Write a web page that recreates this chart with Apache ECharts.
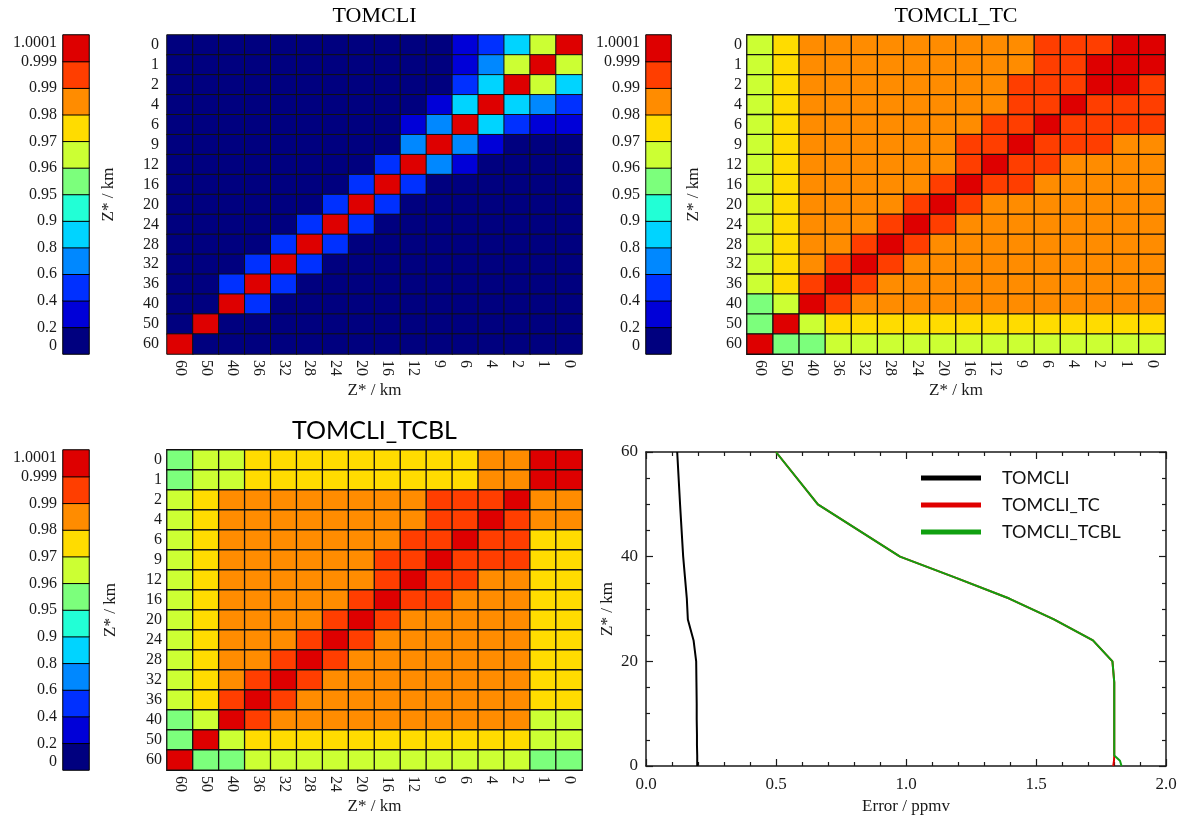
<!DOCTYPE html>
<html>
<head>
<meta charset="utf-8">
<title>TOMCLI averaging kernels</title>
<script src="https://cdn.jsdelivr.net/npm/echarts@6/dist/echarts.min.js"></script>
<style>
    html, body { margin: 0; padding: 0; background: #fff; }
    #chart { width: 1181px; height: 819px; }
</style>
</head>
<body>
<div id="chart"></div>
<script>
// Altitude levels (km): top row / right column is 0, bottom row / left column is 60
const levels = [0, 1, 2, 4, 6, 9, 12, 16, 20, 24, 28, 32, 36, 40, 50, 60];
const xCats = levels.slice().reverse().map(String);
const yCats = levels.map(String);

// Colour scale edges and their tick labels
const bounds = [0, 0.2, 0.4, 0.6, 0.8, 0.9, 0.95, 0.96, 0.97, 0.98, 0.99, 0.999, 1.0001];
const boundLabels = ['0', '0.2', '0.4', '0.6', '0.8', '0.9', '0.95', '0.96', '0.97', '0.98', '0.99', '0.999', '1.0001'];
const binColors = ['#00007f', '#0000d8', '#0030ff', '#0088ff', '#00d4ff', '#22ffd6',
    '#7cff7c', '#ccff33', '#ffdc00', '#ff8c00', '#ff3e00', '#de0000'];

// Matrices: rows are Z* = 0 ... 60 (top to bottom), columns are Z* = 60 ... 0 (left to right)
const tomcli = [
    [0.1, 0.1, 0.1, 0.1, 0.1, 0.1, 0.1, 0.1, 0.1, 0.1, 0.1, 0.3, 0.5, 0.85, 0.965, 1.0],
    [0.1, 0.1, 0.1, 0.1, 0.1, 0.1, 0.1, 0.1, 0.1, 0.1, 0.1, 0.3, 0.7, 0.965, 1.0, 0.965],
    [0.1, 0.1, 0.1, 0.1, 0.1, 0.1, 0.1, 0.1, 0.1, 0.1, 0.1, 0.5, 0.85, 1.0, 0.965, 0.85],
    [0.1, 0.1, 0.1, 0.1, 0.1, 0.1, 0.1, 0.1, 0.1, 0.1, 0.3, 0.85, 1.0, 0.85, 0.7, 0.5],
    [0.1, 0.1, 0.1, 0.1, 0.1, 0.1, 0.1, 0.1, 0.1, 0.3, 0.7, 1.0, 0.85, 0.5, 0.3, 0.3],
    [0.1, 0.1, 0.1, 0.1, 0.1, 0.1, 0.1, 0.1, 0.1, 0.7, 1.0, 0.7, 0.3, 0.1, 0.1, 0.1],
    [0.1, 0.1, 0.1, 0.1, 0.1, 0.1, 0.1, 0.1, 0.5, 1.0, 0.7, 0.3, 0.1, 0.1, 0.1, 0.1],
    [0.1, 0.1, 0.1, 0.1, 0.1, 0.1, 0.1, 0.5, 1.0, 0.5, 0.1, 0.1, 0.1, 0.1, 0.1, 0.1],
    [0.1, 0.1, 0.1, 0.1, 0.1, 0.1, 0.5, 1.0, 0.5, 0.1, 0.1, 0.1, 0.1, 0.1, 0.1, 0.1],
    [0.1, 0.1, 0.1, 0.1, 0.1, 0.5, 1.0, 0.5, 0.1, 0.1, 0.1, 0.1, 0.1, 0.1, 0.1, 0.1],
    [0.1, 0.1, 0.1, 0.1, 0.5, 1.0, 0.5, 0.1, 0.1, 0.1, 0.1, 0.1, 0.1, 0.1, 0.1, 0.1],
    [0.1, 0.1, 0.1, 0.5, 1.0, 0.5, 0.1, 0.1, 0.1, 0.1, 0.1, 0.1, 0.1, 0.1, 0.1, 0.1],
    [0.1, 0.1, 0.5, 1.0, 0.5, 0.1, 0.1, 0.1, 0.1, 0.1, 0.1, 0.1, 0.1, 0.1, 0.1, 0.1],
    [0.1, 0.1, 1.0, 0.5, 0.1, 0.1, 0.1, 0.1, 0.1, 0.1, 0.1, 0.1, 0.1, 0.1, 0.1, 0.1],
    [0.1, 1.0, 0.1, 0.1, 0.1, 0.1, 0.1, 0.1, 0.1, 0.1, 0.1, 0.1, 0.1, 0.1, 0.1, 0.1],
    [1.0, 0.1, 0.1, 0.1, 0.1, 0.1, 0.1, 0.1, 0.1, 0.1, 0.1, 0.1, 0.1, 0.1, 0.1, 0.1]
];

const tomcliTC = [
    [0.965, 0.975, 0.985, 0.985, 0.985, 0.985, 0.985, 0.985, 0.985, 0.985, 0.985, 0.995, 0.995, 0.995, 1.0, 1.0],
    [0.965, 0.975, 0.985, 0.985, 0.985, 0.985, 0.985, 0.985, 0.985, 0.985, 0.985, 0.995, 0.995, 1.0, 1.0, 1.0],
    [0.965, 0.975, 0.985, 0.985, 0.985, 0.985, 0.985, 0.985, 0.985, 0.985, 0.995, 0.995, 0.995, 1.0, 1.0, 0.995],
    [0.965, 0.975, 0.985, 0.985, 0.985, 0.985, 0.985, 0.985, 0.985, 0.985, 0.995, 0.995, 1.0, 0.995, 0.995, 0.995],
    [0.965, 0.975, 0.985, 0.985, 0.985, 0.985, 0.985, 0.985, 0.985, 0.995, 0.995, 1.0, 0.995, 0.995, 0.995, 0.995],
    [0.965, 0.975, 0.985, 0.985, 0.985, 0.985, 0.985, 0.985, 0.995, 0.995, 1.0, 0.995, 0.995, 0.995, 0.985, 0.985],
    [0.965, 0.975, 0.985, 0.985, 0.985, 0.985, 0.985, 0.985, 0.995, 1.0, 0.995, 0.995, 0.985, 0.985, 0.985, 0.985],
    [0.965, 0.975, 0.985, 0.985, 0.985, 0.985, 0.985, 0.995, 1.0, 0.995, 0.995, 0.985, 0.985, 0.985, 0.985, 0.985],
    [0.965, 0.975, 0.985, 0.985, 0.985, 0.985, 0.995, 1.0, 0.995, 0.985, 0.985, 0.985, 0.985, 0.985, 0.985, 0.985],
    [0.965, 0.975, 0.985, 0.985, 0.985, 0.995, 1.0, 0.995, 0.985, 0.985, 0.985, 0.985, 0.985, 0.985, 0.985, 0.985],
    [0.965, 0.975, 0.985, 0.985, 0.995, 1.0, 0.995, 0.985, 0.985, 0.985, 0.985, 0.985, 0.985, 0.985, 0.985, 0.985],
    [0.965, 0.975, 0.985, 0.995, 1.0, 0.995, 0.985, 0.985, 0.985, 0.985, 0.985, 0.985, 0.985, 0.985, 0.985, 0.985],
    [0.965, 0.975, 0.995, 1.0, 0.995, 0.985, 0.985, 0.985, 0.985, 0.985, 0.985, 0.985, 0.985, 0.985, 0.985, 0.985],
    [0.955, 0.965, 1.0, 0.995, 0.985, 0.985, 0.985, 0.985, 0.985, 0.985, 0.985, 0.985, 0.985, 0.985, 0.985, 0.985],
    [0.955, 1.0, 0.965, 0.975, 0.975, 0.975, 0.975, 0.975, 0.975, 0.975, 0.975, 0.975, 0.975, 0.975, 0.975, 0.975],
    [1.0, 0.955, 0.955, 0.965, 0.965, 0.965, 0.965, 0.965, 0.965, 0.965, 0.965, 0.965, 0.965, 0.965, 0.965, 0.965]
];

const tomcliTCBL = [
    [0.955, 0.965, 0.965, 0.975, 0.975, 0.975, 0.975, 0.975, 0.975, 0.975, 0.975, 0.975, 0.985, 0.985, 1.0, 1.0],
    [0.955, 0.965, 0.965, 0.975, 0.975, 0.975, 0.975, 0.975, 0.975, 0.975, 0.975, 0.975, 0.985, 0.985, 1.0, 1.0],
    [0.965, 0.975, 0.985, 0.985, 0.985, 0.985, 0.985, 0.985, 0.985, 0.985, 0.995, 0.995, 0.995, 1.0, 0.985, 0.985],
    [0.965, 0.975, 0.985, 0.985, 0.985, 0.985, 0.985, 0.985, 0.985, 0.985, 0.995, 0.995, 1.0, 0.995, 0.985, 0.985],
    [0.965, 0.975, 0.985, 0.985, 0.985, 0.985, 0.985, 0.985, 0.985, 0.995, 0.995, 1.0, 0.995, 0.995, 0.975, 0.975],
    [0.965, 0.975, 0.985, 0.985, 0.985, 0.985, 0.985, 0.985, 0.995, 0.995, 1.0, 0.995, 0.995, 0.995, 0.975, 0.975],
    [0.965, 0.975, 0.985, 0.985, 0.985, 0.985, 0.985, 0.985, 0.995, 1.0, 0.995, 0.995, 0.985, 0.985, 0.975, 0.975],
    [0.965, 0.975, 0.985, 0.985, 0.985, 0.985, 0.985, 0.995, 1.0, 0.995, 0.995, 0.985, 0.985, 0.985, 0.975, 0.975],
    [0.965, 0.975, 0.985, 0.985, 0.985, 0.985, 0.995, 1.0, 0.995, 0.985, 0.985, 0.985, 0.985, 0.985, 0.975, 0.975],
    [0.965, 0.975, 0.985, 0.985, 0.985, 0.995, 1.0, 0.995, 0.985, 0.985, 0.985, 0.985, 0.985, 0.985, 0.975, 0.975],
    [0.965, 0.975, 0.985, 0.985, 0.995, 1.0, 0.995, 0.985, 0.985, 0.985, 0.985, 0.985, 0.985, 0.985, 0.975, 0.975],
    [0.965, 0.975, 0.985, 0.995, 1.0, 0.995, 0.985, 0.985, 0.985, 0.985, 0.985, 0.985, 0.985, 0.985, 0.975, 0.975],
    [0.965, 0.975, 0.995, 1.0, 0.995, 0.985, 0.985, 0.985, 0.985, 0.985, 0.985, 0.985, 0.985, 0.985, 0.975, 0.975],
    [0.955, 0.965, 1.0, 0.995, 0.985, 0.985, 0.985, 0.985, 0.985, 0.985, 0.985, 0.985, 0.985, 0.985, 0.965, 0.965],
    [0.955, 1.0, 0.965, 0.975, 0.975, 0.975, 0.975, 0.975, 0.975, 0.975, 0.975, 0.975, 0.975, 0.975, 0.965, 0.965],
    [1.0, 0.955, 0.955, 0.965, 0.965, 0.965, 0.965, 0.965, 0.965, 0.965, 0.965, 0.965, 0.965, 0.965, 0.955, 0.955]
];

// Error profiles (ppmv) at each level of `levels`
const errTomcli = [0.197, 0.197, 0.197, 0.196, 0.196, 0.195, 0.195, 0.194, 0.193, 0.183, 0.161, 0.157, 0.150, 0.143, 0.131, 0.120];
const errTC = [1.797, 1.800, 1.801, 1.801, 1.801, 1.801, 1.801, 1.801, 1.794, 1.719, 1.569, 1.397, 1.190, 0.977, 0.661, 0.500];
const errTCBL = [1.829, 1.823, 1.801, 1.801, 1.801, 1.801, 1.801, 1.801, 1.794, 1.719, 1.569, 1.397, 1.190, 0.977, 0.661, 0.500];

(function () {
    'use strict';

    const chart = echarts.init(document.getElementById('chart'));
    const SERIF = '"Liberation Serif", "DejaVu Serif", serif';
    const SANS = 'Lato, "Open Sans", sans-serif';
    const INK = '#1a1a1a';

    // Layout of the three matrix panels
    const panels = [
        { title: 'TOMCLI', values: tomcli, cbLeft: 63, cbWidth: 26, left: 167, width: 415, top: 35, height: 319,
            titleFont: SERIF, titleSize: 22, titleTop: 5, nameGap: 50, labelMargin: 8, border: 1 },
        { title: 'TOMCLI_TC', values: tomcliTC, cbLeft: 646, cbWidth: 25, left: 747, width: 418, top: 35, height: 319,
            titleFont: SERIF, titleSize: 22, titleTop: 5, nameGap: 45, labelMargin: 5, border: 1.3 },
        { title: 'TOMCLI_TCBL', values: tomcliTCBL, cbLeft: 63, cbWidth: 26, left: 167, width: 415, top: 450, height: 320,
            titleFont: SANS, titleSize: 25, titleTop: 418, nameGap: 48, labelMargin: 5, border: 1.3 }
    ];
    const lineGrid = { left: 646, top: 452, width: 520, height: 314 };

    const grids = [];
    const xAxes = [];
    const yAxes = [];
    const series = [];
    const titles = [];
    const mapped = [];

    panels.forEach((p) => {
        // colour bar: one heatmap column, labelled at the bin edges by a value axis
        const cbGrid = grids.length;
        grids.push({ left: p.cbLeft, top: p.top, width: p.cbWidth, height: p.height });
        xAxes.push({ type: 'category', gridIndex: cbGrid, data: [''], show: false });
        yAxes.push({ type: 'category', gridIndex: cbGrid, position: 'right', data: binColors.map((c, i) => String(i)), show: false });
        const cbY = yAxes.length - 1;
        yAxes.push({
            type: 'value', gridIndex: cbGrid, position: 'left', min: 0, max: bounds.length - 1, interval: 1,
            axisLine: { show: false, onZero: false }, axisTick: { show: false }, splitLine: { show: false },
            axisLabel: {
                margin: 6, color: INK, fontFamily: SERIF, fontSize: 16,
                verticalAlignMinLabel: 'bottom', verticalAlignMaxLabel: 'top',
                formatter: (v) => boundLabels[v]
            }
        });
        mapped.push(series.length);
        series.push({
            type: 'heatmap', xAxisIndex: xAxes.length - 1, yAxisIndex: cbY,
            data: binColors.map((c, i) => [0, i, (bounds[i] + bounds[i + 1]) / 2]),
            itemStyle: { borderColor: '#000', borderWidth: 1 },
            emphasis: { disabled: true }
        });

        // matrix
        const g = grids.length;
        grids.push({ left: p.left, top: p.top, width: p.width, height: p.height });
        xAxes.push({
            type: 'category', gridIndex: g, data: xCats,
            axisLine: { show: false }, axisTick: { show: false }, splitLine: { show: false },
            axisLabel: { interval: 0, rotate: -90, margin: 6, color: INK, fontFamily: SERIF, fontSize: 16 },
            name: 'Z* / km', nameLocation: 'middle', nameGap: 28,
            nameTextStyle: { color: INK, fontFamily: SERIF, fontSize: 17 }
        });
        yAxes.push({
            type: 'category', gridIndex: g, data: yCats, inverse: true,
            axisLine: { show: false }, axisTick: { show: false }, splitLine: { show: false },
            axisLabel: { interval: 0, margin: p.labelMargin, color: INK, fontFamily: SERIF, fontSize: 16 },
            name: 'Z* / km', nameLocation: 'middle', nameGap: p.nameGap,
            nameTextStyle: { color: INK, fontFamily: SERIF, fontSize: 17 }
        });
        const data = [];
        p.values.forEach((row, r) => row.forEach((v, c) => data.push([c, r, v])));
        mapped.push(series.length);
        series.push({
            type: 'heatmap', xAxisIndex: xAxes.length - 1, yAxisIndex: yAxes.length - 1,
            data: data,
            itemStyle: { borderColor: '#111', borderWidth: p.border },
            emphasis: { disabled: true }
        });

        titles.push({
            text: p.title, left: p.left + p.width / 2, textAlign: 'center', top: p.titleTop, padding: 0,
            textStyle: { color: '#000', fontFamily: p.titleFont, fontSize: p.titleSize, fontWeight: 'normal' }
        });
    });

    // error profile panel, framed on all four sides with inward ticks
    const lg = grids.length;
    grids.push(lineGrid);
    const tickStyle = { show: true, inside: true, length: 7, lineStyle: { color: INK, width: 1.2 } };
    const minorStyle = { show: true, length: 4, lineStyle: { color: INK, width: 1.2 } };
    const frame = { show: true, onZero: false, lineStyle: { color: INK, width: 1.5 } };
    xAxes.push({
        type: 'value', gridIndex: lg, position: 'bottom', min: 0, max: 2, interval: 0.5,
        axisLine: frame, axisTick: tickStyle, minorTick: Object.assign({ splitNumber: 5 }, minorStyle),
        splitLine: { show: false },
        axisLabel: { margin: 10, color: INK, fontFamily: SERIF, fontSize: 17, formatter: (v) => v.toFixed(1) },
        name: 'Error / ppmv', nameLocation: 'middle', nameGap: 32,
        nameTextStyle: { color: INK, fontFamily: SERIF, fontSize: 17 }
    });
    const lineX = xAxes.length - 1;
    xAxes.push({
        type: 'value', gridIndex: lg, position: 'top', min: 0, max: 2, interval: 0.5,
        axisLine: frame, axisTick: tickStyle, minorTick: Object.assign({ splitNumber: 5 }, minorStyle),
        splitLine: { show: false }, axisLabel: { show: false }
    });
    yAxes.push({
        type: 'value', gridIndex: lg, position: 'left', min: 0, max: 60, interval: 20,
        axisLine: frame, axisTick: tickStyle, minorTick: Object.assign({ splitNumber: 4 }, minorStyle),
        splitLine: { show: false },
        axisLabel: { margin: 8, color: INK, fontFamily: SERIF, fontSize: 17 },
        name: 'Z* / km', nameLocation: 'middle', nameGap: 30,
        nameTextStyle: { color: INK, fontFamily: SERIF, fontSize: 17 }
    });
    const lineY = yAxes.length - 1;
    yAxes.push({
        type: 'value', gridIndex: lg, position: 'right', min: 0, max: 60, interval: 20,
        axisLine: frame, axisTick: tickStyle, minorTick: Object.assign({ splitNumber: 4 }, minorStyle),
        splitLine: { show: false }, axisLabel: { show: false }
    });

    const profiles = [
        { name: 'TOMCLI', err: errTomcli, color: '#000000' },
        { name: 'TOMCLI_TC', err: errTC, color: '#e00000' },
        { name: 'TOMCLI_TCBL', err: errTCBL, color: '#10a010' }
    ];
    profiles.forEach((s) => {
        series.push({
            type: 'line', name: s.name, xAxisIndex: lineX, yAxisIndex: lineY,
            data: levels.map((z, i) => [s.err[i], z]),
            showSymbol: false, color: s.color,
            lineStyle: { color: s.color, width: 2 },
            emphasis: { disabled: true }
        });
    });

    const option = {
        animation: false,
        backgroundColor: '#fff',
        title: titles,
        grid: grids,
        xAxis: xAxes,
        yAxis: yAxes,
        visualMap: {
            type: 'piecewise', show: false, seriesIndex: mapped,
            pieces: binColors.map((c, i) => ({ gte: bounds[i], lt: bounds[i + 1], color: c }))
        },
        legend: {
            data: profiles.map((s) => s.name),
            orient: 'vertical', left: 916, top: 464, itemGap: 9,
            icon: 'rect', itemWidth: 60, itemHeight: 5,
            textStyle: { color: '#111', fontFamily: SANS, fontSize: 18, padding: [0, 0, 0, 16] }
        },
        series: series
    };

    chart.setOption(option);
})();
</script>
</body>
</html>
